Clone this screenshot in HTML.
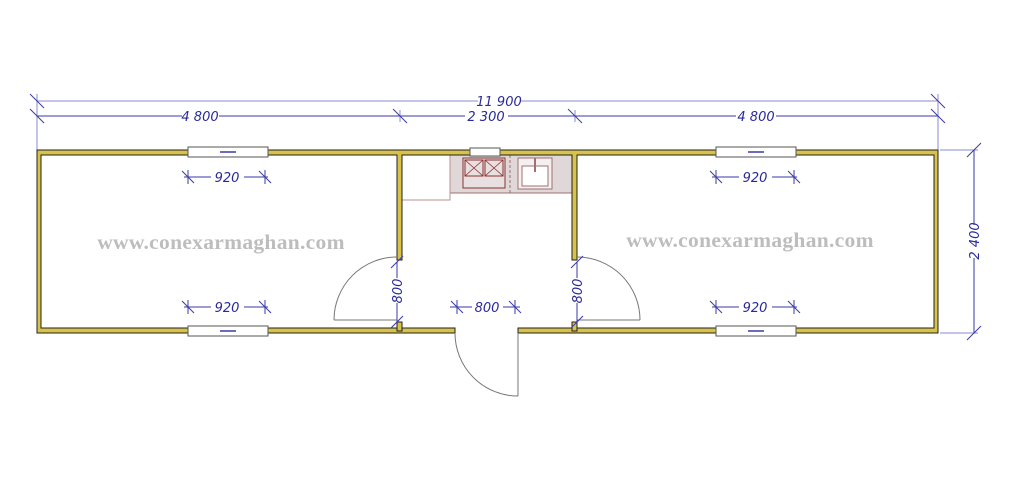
<!DOCTYPE html>
<html><head><meta charset="utf-8"><style>
html,body{margin:0;padding:0;background:#fff;width:1024px;height:500px;overflow:hidden}
svg{display:block}
.d{stroke:#3a3aa8;stroke-width:1;fill:none}
.e{stroke:#8a8ad0;stroke-width:1;fill:none}
.t{font-family:"DejaVu Sans","Liberation Sans",sans-serif;font-size:13px;fill:#2a2a9a;font-style:italic}
.w{font-family:"Liberation Serif",serif;font-size:21.5px;fill:#bdbdbd;font-weight:bold;letter-spacing:0.3px}
</style></head><body>
<svg width="1024" height="500" viewBox="0 0 1024 500" xmlns="http://www.w3.org/2000/svg">
<line class="e" x1="37" y1="94" x2="37" y2="150"/>
<line class="e" x1="938" y1="94" x2="938" y2="150"/>
<line class="e" x1="400" y1="110" x2="400" y2="122"/>
<line class="e" x1="575" y1="110" x2="575" y2="122"/>
<line class="e" x1="940" y1="150" x2="978" y2="150"/>
<line class="e" x1="940" y1="333" x2="978" y2="333"/>
<line class="e" x1="37" y1="101" x2="478" y2="101"/><line class="e" x1="520" y1="101" x2="938" y2="101"/>
<line class="d" x1="30" y1="94" x2="44" y2="108"/><line class="d" x1="931" y1="94" x2="945" y2="108"/>
<text class="t" x="499" y="106" text-anchor="middle">11 900</text>
<line class="d" x1="37" y1="116" x2="182" y2="116"/><line class="d" x1="219" y1="116" x2="465" y2="116"/>
<line class="d" x1="508" y1="116" x2="736" y2="116"/><line class="d" x1="776" y1="116" x2="938" y2="116"/>
<line class="d" x1="30" y1="109" x2="44" y2="123"/><line class="d" x1="393" y1="109" x2="407" y2="123"/>
<line class="d" x1="568" y1="109" x2="582" y2="123"/><line class="d" x1="931" y1="109" x2="945" y2="123"/>
<text class="t" x="200" y="121" text-anchor="middle">4 800</text>
<text class="t" x="486" y="121" text-anchor="middle">2 300</text>
<text class="t" x="756" y="121" text-anchor="middle">4 800</text>
<line class="d" x1="974" y1="150" x2="974" y2="225"/><line class="d" x1="974" y1="258" x2="974" y2="333"/>
<line class="d" x1="967" y1="157" x2="981" y2="143"/><line class="d" x1="967" y1="340" x2="981" y2="326"/>
<text class="t" transform="translate(979,241) rotate(-90)" text-anchor="middle">2 400</text>
<rect x="450" y="155" width="125" height="38" fill="#e0d8d8" stroke="#a07070" stroke-width="1"/>
<rect x="402" y="155" width="48" height="45" fill="#fff" stroke="#c09090" stroke-width="1"/>
<line x1="510" y1="155" x2="510" y2="193" stroke="#a07070" stroke-dasharray="3,2"/>
<rect x="463" y="158" width="42" height="30" fill="#e8e0e0" stroke="#8a3030"/>
<rect x="465" y="160" width="18" height="16" fill="none" stroke="#8a3030"/><rect x="485" y="160" width="18" height="16" fill="none" stroke="#8a3030"/>
<path d="M465 160 L483 176 M483 160 L465 176 M485 160 L503 176 M503 160 L485 176" stroke="#8a3030" stroke-width="0.8"/>
<rect x="518" y="158" width="34" height="31" fill="#f4f0f0" stroke="#a07070"/>
<rect x="522" y="166" width="26" height="20" fill="#fff" stroke="#a07070"/>
<line x1="535" y1="158" x2="535" y2="172" stroke="#a07070" stroke-width="2"/>
<g fill="#d8c24a" stroke="#222" stroke-width="1">
<path d="M37 150 H938 V333 H518 V328 H934 V155 H577 V260 H572 V155 H402 V260 H397 V155 H41 V328 H397 V322 H402 V328 H455 V333 H37 Z"/>
<rect x="397" y="322" width="5" height="9"/>
<rect x="572" y="322" width="5" height="9"/>
</g>
<g fill="#fff" stroke="#555" stroke-width="1">
<rect x="188" y="147" width="80" height="10"/><rect x="188" y="326" width="80" height="10"/>
<rect x="716" y="147" width="80" height="10"/><rect x="716" y="326" width="80" height="10"/>
<rect x="470" y="148" width="30" height="8"/>
</g>
<g stroke="#3a3aa8" stroke-width="1.5">
<line x1="220" y1="152" x2="236" y2="152"/><line x1="220" y1="331" x2="236" y2="331"/>
<line x1="748" y1="152" x2="764" y2="152"/><line x1="748" y1="331" x2="764" y2="331"/>
</g>
<g fill="none" stroke="#777" stroke-width="1">
<path d="M334 320 A63 63 0 0 1 397 257"/><line x1="334" y1="320" x2="397" y2="320"/>
<path d="M577 257 A63 63 0 0 1 640 320"/><line x1="577" y1="320" x2="640" y2="320"/>
<path d="M455 333 A63 63 0 0 0 518 396"/><line x1="518" y1="333" x2="518" y2="396"/>
</g>
<g class="d">
<line x1="184" y1="177" x2="211" y2="177"/><line x1="244" y1="177" x2="268" y2="177"/>
<line x1="184" y1="307" x2="211" y2="307"/><line x1="244" y1="307" x2="268" y2="307"/>
<line x1="712" y1="177" x2="739" y2="177"/><line x1="772" y1="177" x2="797" y2="177"/>
<line x1="712" y1="307" x2="739" y2="307"/><line x1="772" y1="307" x2="797" y2="307"/>
<path d="M188 170 V184 M182 171 L194 183 M265 170 V184 M259 171 L271 183"/>
<path d="M188 300 V314 M182 301 L194 313 M265 300 V314 M259 301 L271 313"/>
<path d="M716 170 V184 M710 171 L722 183 M794 170 V184 M788 171 L800 183"/>
<path d="M716 300 V314 M710 301 L722 313 M794 300 V314 M788 301 L800 313"/>
<line x1="450" y1="307" x2="472" y2="307"/><line x1="503" y1="307" x2="520" y2="307"/>
<path d="M457 300 V314 M451 301 L463 313 M515 300 V314 M509 301 L521 313"/>
<line x1="397" y1="262" x2="397" y2="278"/><line x1="397" y1="303" x2="397" y2="322"/>
<line x1="577" y1="262" x2="577" y2="278"/><line x1="577" y1="303" x2="577" y2="322"/>
<path d="M391 268 L403 256 M391 328 L403 316 M571 268 L583 256 M571 328 L583 316"/>
</g>
<text class="t" x="227" y="182" text-anchor="middle">920</text>
<text class="t" x="227" y="312" text-anchor="middle">920</text>
<text class="t" x="755" y="182" text-anchor="middle">920</text>
<text class="t" x="755" y="312" text-anchor="middle">920</text>
<text class="t" x="487" y="312" text-anchor="middle">800</text>
<text class="t" transform="translate(402,291) rotate(-90)" text-anchor="middle">800</text>
<text class="t" transform="translate(582,291) rotate(-90)" text-anchor="middle">800</text>
<text class="w" x="221" y="249" text-anchor="middle">www.conexarmaghan.com</text>
<text class="w" x="750" y="247" text-anchor="middle">www.conexarmaghan.com</text>
</svg>
</body></html>
